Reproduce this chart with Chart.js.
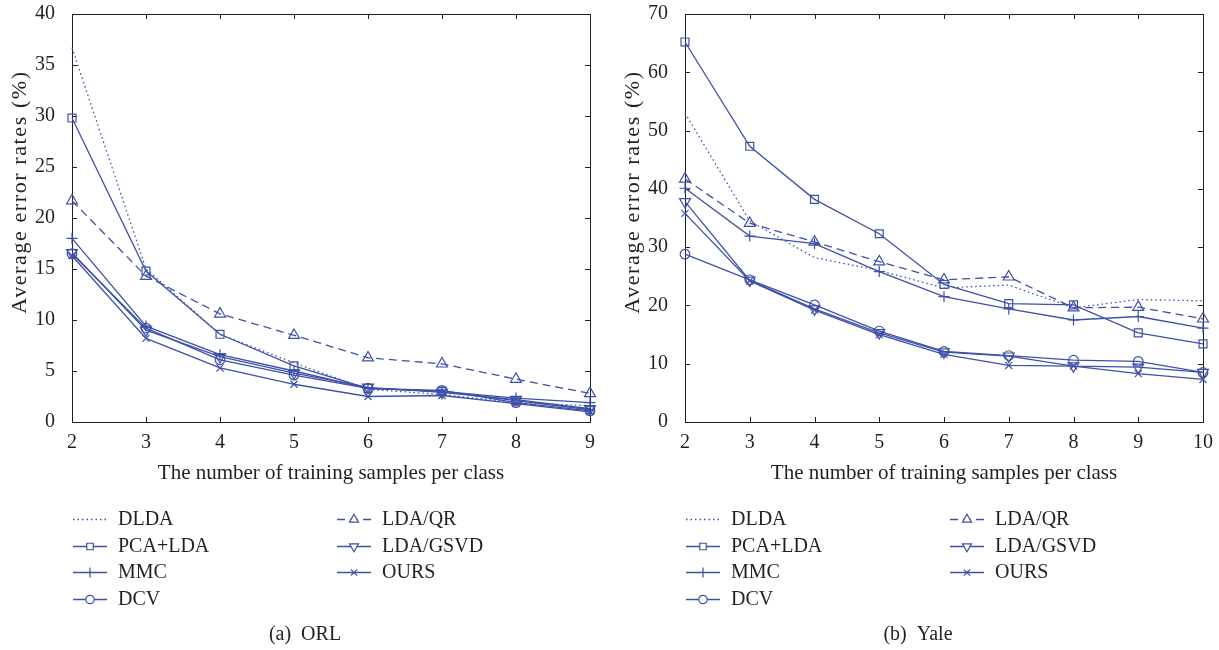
<!DOCTYPE html>
<html>
<head>
<meta charset="utf-8">
<script src="https://cdn.jsdelivr.net/npm/chart.js@4.4.1/dist/chart.umd.min.js"></script>
<style>
  body { margin: 0; background: #fff; }
  #wrap { position: relative; width: 1219px; height: 650px; }
  #c1 { position: absolute; left: 0; top: 0; }
  #c2 { position: absolute; left: 609px; top: 0; }
</style>
</head>
<body>
<div id="wrap">
  <canvas id="c1" width="609" height="650"></canvas>
  <canvas id="c2" width="610" height="650"></canvas>
</div>
<script>
// ORL data (x = training samples per class)
var orlSamples = [2, 3, 4, 5, 6, 7, 8, 9];
var orlDLDA    = [36.7, 15.0, 8.6, 5.8, 3.2, 2.7, 1.9, 1.6];
var orlPCALDA  = [29.8, 14.8, 8.6, 5.5, 3.3, 3.0, 2.1, 1.2];
var orlMMC     = [18.0, 9.4, 6.6, 5.0, 3.3, 3.0, 2.35, 1.9];
var orlDCV     = [16.5, 9.2, 6.1, 4.6, 3.3, 3.1, 1.9, 1.1];
var orlLDAQR   = [21.7, 14.3, 10.6, 8.5, 6.3, 5.7, 4.2, 2.8];
var orlGSVD    = [16.6, 9.0, 6.4, 4.8, 3.4, 2.9, 2.2, 1.3];
var orlOURS    = [16.3, 8.2, 5.3, 3.7, 2.5, 2.6, 1.8, 1.0];
var orlYTicks  = [0, 5, 10, 15, 20, 25, 30, 35, 40];

// Yale data
var yaleSamples = [2, 3, 4, 5, 6, 7, 8, 9, 10];
var yaleDLDA    = [53.0, 34.5, 28.2, 26.0, 23.0, 23.5, 19.6, 21.0, 20.8];
var yalePCALDA  = [65.2, 47.3, 38.2, 32.3, 23.6, 20.3, 20.1, 15.3, 13.4];
var yaleMMC     = [40.1, 31.9, 30.6, 25.8, 21.5, 19.4, 17.5, 18.1, 16.1];
var yaleDCV     = [28.8, 24.4, 20.1, 15.6, 12.1, 11.4, 10.6, 10.4, 8.5];
var yaleLDAQR   = [41.7, 34.1, 30.9, 27.5, 24.4, 24.9, 19.6, 19.7, 17.7];
var yaleGSVD    = [37.8, 24.3, 19.4, 15.3, 12.0, 11.3, 9.6, 9.4, 8.5];
var yaleOURS    = [35.8, 24.2, 19.2, 15.0, 11.6, 9.7, 9.6, 8.3, 7.3];
var yaleYTicks  = [0, 10, 20, 30, 40, 50, 60, 70];

var methodNames = ['DLDA', 'PCA+LDA', 'MMC', 'DCV', 'LDA/QR', 'LDA/GSVD', 'OURS'];

var BLUE = '#3e51a8';
var INK = '#231f20';
var FONT = "'Liberation Serif', 'DejaVu Serif', serif";

// marker style for each method, same order as methodNames
var styles = [
    { dash: [1.5, 3], point: false, radius: 0, legendRadius: 0 },
    { dash: [], point: 'rect', radius: 5.6, legendRadius: 4.6 },
    { dash: [], point: 'cross', radius: 5.5, legendRadius: 5 },
    { dash: [], point: 'circle', radius: 4.8, legendRadius: 4.2 },
    { dash: [8, 5], point: 'triangle', radius: 6.3, legendRadius: 5.2 },
    { dash: [], point: 'triangle', rotation: 180, radius: 6.3, legendRadius: 5.2 },
    { dash: [], point: 'crossRot', radius: 5, legendRadius: 4.5 }
];

function makeDatasets(samples, series) {
    var sets = [];
    for (var i = 0; i < series.length; i++) {
        var st = styles[i];
        var pts = samples.map(function(s, k) { return { x: s, y: series[i][k] }; });
        sets.push({
            label: methodNames[i],
            data: pts,
            borderColor: BLUE,
            backgroundColor: 'rgba(0,0,0,0)',
            borderWidth: 1.3,
            borderDash: st.dash,
            pointStyle: st.point,
            pointRadius: st.radius,
            pointRotation: st.rotation || 0,
            pointBorderColor: BLUE,
            pointBackgroundColor: 'rgba(0,0,0,0)',
            pointBorderWidth: 1.2,
            tension: 0,
            clip: false
        });
    }
    return sets;
}

// box + inward tick marks on all four sides
var boxPlugin = {
    id: 'box',
    beforeDatasetsDraw: function(chart) {
        var ctx = chart.ctx, a = chart.chartArea;
        var xs = chart.scales.x, ys = chart.scales.y;
        ctx.save();
        ctx.strokeStyle = INK;
        ctx.lineWidth = 1;
        ctx.strokeRect(Math.round(a.left) + 0.5, Math.round(a.top) + 0.5,
            Math.round(a.right - a.left), Math.round(a.bottom - a.top));
        ctx.beginPath();
        xs.ticks.forEach(function(t) {
            var px = Math.round(xs.getPixelForValue(t.value)) + 0.5;
            ctx.moveTo(px, a.bottom); ctx.lineTo(px, a.bottom - 5);
            ctx.moveTo(px, a.top); ctx.lineTo(px, a.top + 5);
        });
        ys.ticks.forEach(function(t) {
            var py = Math.round(ys.getPixelForValue(t.value)) + 0.5;
            ctx.moveTo(a.left, py); ctx.lineTo(a.left + 5, py);
            ctx.moveTo(a.right, py); ctx.lineTo(a.right - 5, py);
        });
        ctx.stroke();
        ctx.restore();
    }
};

// y title, two-column legend and caption
var legendPlugin = {
    id: 'legendBelow',
    afterDraw: function(chart, args, opts) {
        var ctx = chart.ctx, a = chart.chartArea;
        var rows = [519, 546, 572, 599];
        ctx.save();
        ctx.fillStyle = INK;
        ctx.font = '22px ' + FONT;
        ctx.translate(opts.titleX, 192);
        ctx.rotate(-Math.PI / 2);
        ctx.letterSpacing = '1.6px';
        ctx.textAlign = 'center';
        ctx.textBaseline = 'middle';
        ctx.fillText('Average error rates (%)', 0, 0);
        ctx.restore();

        ctx.save();
        ctx.font = '20px ' + FONT;
        ctx.textBaseline = 'middle';
        chart.data.datasets.forEach(function(ds, i) {
            var st = styles[i];
            var col = i < 4 ? 0 : 1;
            var y = rows[col === 0 ? i : i - 4];
            var x0 = a.left + (col === 0 ? 1 : 265);
            var x1 = x0 + 34;
            ctx.strokeStyle = BLUE;
            ctx.lineWidth = 1.3;
            ctx.setLineDash(st.dash);
            ctx.beginPath();
            ctx.moveTo(x0, y + 0.5); ctx.lineTo(x1, y + 0.5);
            ctx.stroke();
            ctx.setLineDash([]);
            if (st.point) {
                ctx.fillStyle = '#fff';
                ctx.lineWidth = 1.2;
                Chart.helpers.drawPoint(ctx, {
                    pointStyle: st.point, radius: st.legendRadius,
                    rotation: st.rotation || 0, borderWidth: 1.2
                }, (x0 + x1) / 2, y + 0.5);
            }
            ctx.fillStyle = INK;
            ctx.textAlign = 'left';
            ctx.fillText(ds.label, a.left + (col === 0 ? 46 : 310), y + 1);
        });
        ctx.textAlign = 'center';
        ctx.fillText(opts.caption, (a.left + a.right) / 2 - 26, 635);
        ctx.restore();
    }
};

function makeChart(id, samples, series, yTicks, yAxisWidth, padRight, caption, titleX) {
    var tickFont = { family: FONT, size: 20 };
    return new Chart(document.getElementById(id), {
        type: 'line',
        data: { datasets: makeDatasets(samples, series) },
        options: {
            responsive: false,
            animation: false,
            devicePixelRatio: 1,
            layout: { padding: { left: 0, top: 14, right: padRight, bottom: 650 - 422 - 65 } },
            plugins: {
                legend: { display: false },
                tooltip: { enabled: false },
                legendBelow: { caption: caption, titleX: titleX }
            },
            scales: {
                x: {
                    type: 'linear',
                    min: samples[0],
                    max: samples[samples.length - 1],
                    grid: { display: false },
                    border: { display: false },
                    ticks: { stepSize: 1, color: INK, font: tickFont, padding: 1, maxRotation: 0 },
                    title: {
                        display: true, text: 'The number of training samples per class',
                        color: INK, font: { family: FONT, size: 21 }, padding: { top: 0, bottom: 1 }
                    },
                    afterFit: function(scale) {
                        scale.height = 65;
                        scale.paddingLeft = 0;
                        scale.paddingRight = 0;
                    }
                },
                y: {
                    type: 'linear',
                    min: yTicks[0],
                    max: yTicks[yTicks.length - 1],
                    grid: { display: false },
                    border: { display: false },
                    ticks: { stepSize: yTicks[1] - yTicks[0], color: INK, font: tickFont, padding: 9 },
                    afterFit: function(scale) {
                        scale.width = yAxisWidth;
                        scale.paddingTop = 0;
                        scale.paddingBottom = 0;
                    }
                }
            }
        },
        plugins: [boxPlugin, legendPlugin]
    });
}

makeChart('c1', orlSamples,
    [orlDLDA, orlPCALDA, orlMMC, orlDCV, orlLDAQR, orlGSVD, orlOURS],
    orlYTicks, 72, 19, '(a)  ORL', 20);
makeChart('c2', yaleSamples,
    [yaleDLDA, yalePCALDA, yaleMMC, yaleDCV, yaleLDAQR, yaleGSVD, yaleOURS],
    yaleYTicks, 76, 16, '(b)  Yale', 24);
</script>
</body>
</html>
